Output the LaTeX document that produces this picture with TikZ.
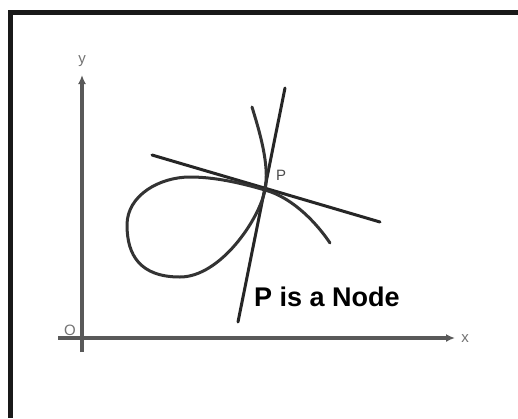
\documentclass[tikz,border=0pt]{standalone}
\usepackage{fontspec}
\setmainfont{Liberation Sans}
\usetikzlibrary{arrows.meta}
\begin{document}
\begin{tikzpicture}[x=1pt,y=-1pt,
  axis/.style={line width=3.5pt,draw=black!65,-{Latex[length=9pt,width=8pt]}},
  curve/.style={line width=3pt,draw=black!80,line cap=round},
  tang/.style={line width=3pt,draw=black!85,line cap=round},
  small/.style={font=\fontsize{15}{15}\selectfont,text=black!55,inner sep=0pt}]
\useasboundingbox (0,0) rectangle (518,418);
\fill[white] (0,0) rectangle (518,418);
% frame
\draw[line width=5pt,black!90] (518,12) -- (10,12) -- (10,418);
% axes
\coordinate (xs) at (58,338);
\coordinate (xe) at (455,338);
\coordinate (ys) at (82,352);
\coordinate (ye) at (82,75);
\draw[axis] (xs) -- (xe);
\draw[axis] (ys) -- (ye);
\node[small] (ylab) at (82,61) {y};
\node[small] (xlab) at (465,339) {x};
\node[small] (olab) at (70,330) {O};
% node point
\coordinate (P) at (265,190);
% tangent lines
\coordinate (t1a) at (285,88);
\coordinate (t1b) at (238,322);
\coordinate (t2a) at (152,155);
\coordinate (t2b) at (380,222);
\draw[tang] (t1a) -- (t1b);
\draw[tang] (t2a) -- (t2b);
% curve
\draw[curve] (252,107) .. controls (259,130) and (270,165) .. (P)
  .. controls (259,220) and (220,277) .. (180,277)
  .. controls (140,277) and (127,255) .. (127,225)
  .. controls (127,195) and (160,177) .. (190,177)
  .. controls (215,177) and (241,183) .. (P)
  .. controls (294,198) and (318,225) .. (330,243);
\node[small,text=black!70] (plab) at (281,175) {P};
\node[anchor=west,inner sep=0pt,font=\fontsize{27}{27}\selectfont\bfseries] (cap) at (254,297) {P is a Node};
\end{tikzpicture}
\end{document}
